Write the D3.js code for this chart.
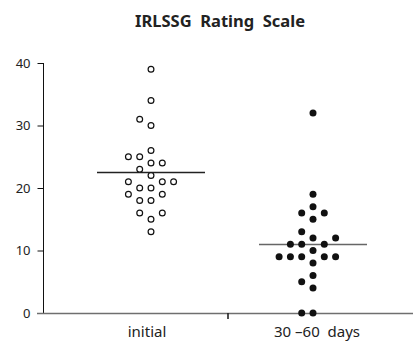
<!DOCTYPE html>
<html>
<head>
<meta charset="utf-8">
<script src="https://cdn.jsdelivr.net/npm/d3@7"></script>
<style>
  body { margin: 0; background: #fff; }
  svg { display: block; font-family: "Noto Sans", sans-serif; }
</style>
</head>
<body>
<div id="chart"></div>
<script>
// Categories and values
const categories = ["initial", "30 \u201360  days"];
const initialScores = [39, 34, 31, 30, 26, 25, 25, 24, 24, 23, 22, 21, 21, 21, 20, 20, 19, 19, 18, 18, 16, 16, 15, 13];
const followUpScores = [32, 19, 17, 16, 16, 15, 13, 12, 12, 11, 11, 11, 10, 9, 9, 9, 9, 9, 8, 6, 5, 4, 0, 0];
const yTicks = [0, 10, 20, 30, 40];

const width = 413, height = 347;

const svg = d3.select("#chart")
  .append("svg")
  .attr("width", width)
  .attr("height", height);

// Scales
const y = d3.scaleLinear().domain([0, 40]).range([313, 63]);
const x = d3.scalePoint().domain(categories).range([151, 313]);
const slotWidth = 11.3;

// Title
svg.append("text")
  .attr("x", 220)
  .attr("y", 27)
  .attr("text-anchor", "middle")
  .style("font-size", "16.5px")
  .style("font-weight", "bold")
  .style("white-space", "pre")
  .attr("fill", "#222")
  .text("IRLSSG  Rating  Scale");

// Y axis
const yAxis = svg.append("g")
  .attr("transform", "translate(43.5,0)")
  .call(d3.axisLeft(y).tickValues(yTicks).tickSize(6).tickPadding(7));
yAxis.select(".domain").attr("stroke", "#111").attr("d", "M0,63V313");
yAxis.selectAll(".tick line").attr("stroke", "#111");
yAxis.selectAll(".tick text")
  .style("font-size", "13px")
  .style("font-family", "Noto Sans, sans-serif")
  .attr("fill", "#222");

// X axis line (grey), running to the right edge
svg.append("line")
  .attr("x1", 37).attr("x2", 413)
  .attr("y1", y(0) + 0.5).attr("y2", y(0) + 0.5)
  .attr("stroke", "#6f6f6f")
  .attr("stroke-width", 1.6);

// single tick in the middle of the x axis
svg.append("line")
  .attr("x1", 228).attr("x2", 228)
  .attr("y1", y(0)).attr("y2", y(0) + 6)
  .attr("stroke", "#222")
  .attr("stroke-width", 1.6);

// Category labels
svg.selectAll(".cat")
  .data(categories)
  .enter()
  .append("text")
  .attr("class", "cat")
  .attr("x", (d, i) => x(d) + (i === 0 ? -4 : 4))
  .attr("y", 337)
  .attr("text-anchor", "middle")
  .style("font-size", "15px")
  .style("white-space", "pre")
  .attr("fill", "#222")
  .text(d => d);

// Simple dot-plot layout: each value goes to the nearest free slot
// (0, -1, +1, -2, +2 ...) not touching a dot one unit above/below.
function layout(values) {
  const sorted = values.slice().sort((a, b) => a - b);
  const placed = [];
  sorted.forEach(v => {
    for (let k = 0; k < 20; k++) {
      const slot = k === 0 ? 0 : (k % 2 ? -Math.ceil(k / 2) : Math.ceil(k / 2));
      const hit = placed.some(p => p.slot === slot && Math.abs(y(p.value) - y(v)) < 7);
      if (!hit) {
        placed.push({ value: v, slot: slot });
        break;
      }
    }
  });
  return placed;
}

const groups = [
  { name: categories[0], values: initialScores, filled: false, lineColor: "#222" },
  { name: categories[1], values: followUpScores, filled: true, lineColor: "#666" },
];

groups.forEach(g => {
  const cx = x(g.name);

  // mean line
  const m = d3.mean(g.values);
  svg.append("line")
    .attr("x1", cx - 54).attr("x2", cx + 54)
    .attr("y1", y(m)).attr("y2", y(m))
    .attr("stroke", g.lineColor)
    .attr("stroke-width", 1.5);

  svg.append("g")
    .selectAll("circle")
    .data(layout(g.values))
    .enter()
    .append("circle")
    .attr("cx", d => cx + d.slot * slotWidth)
    .attr("cy", d => y(d.value))
    .attr("r", g.filled ? 3.5 : 2.9)
    .attr("fill", g.filled ? "#111" : "#fff")
    .attr("stroke", "#111")
    .attr("stroke-width", g.filled ? 0 : 1.2);
});
</script>
</body>
</html>
